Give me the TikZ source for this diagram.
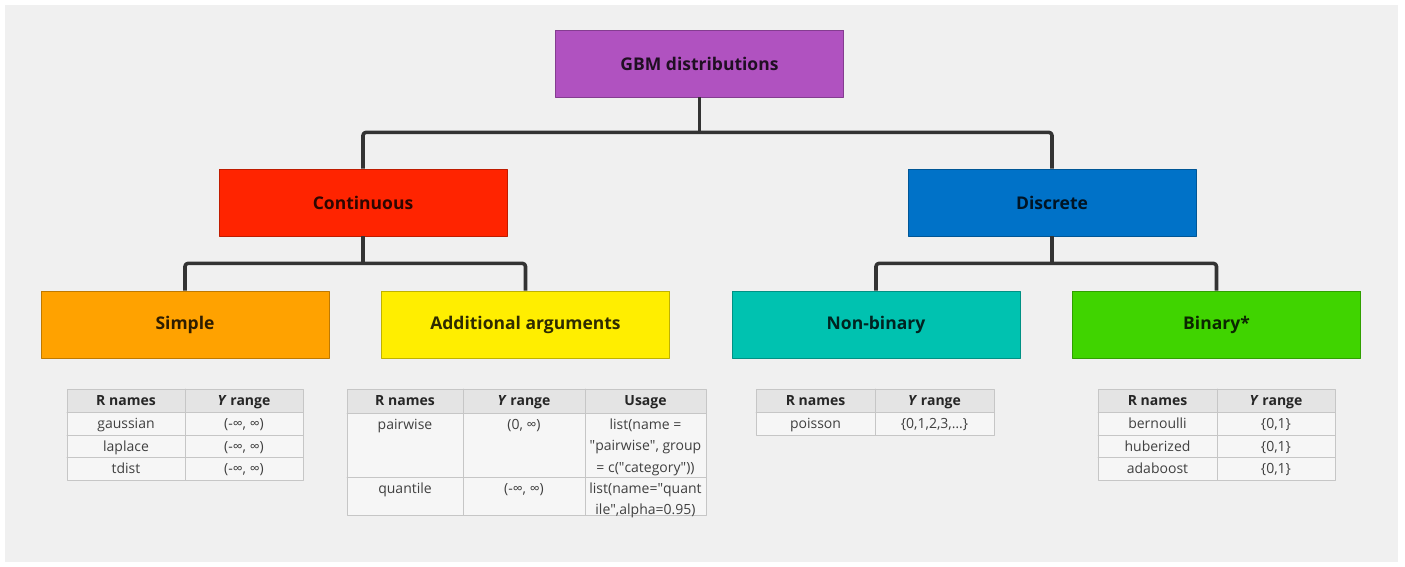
\documentclass[tikz,border=0pt]{standalone}
\usepackage{fontspec}
\setmainfont{Open Sans}
\usetikzlibrary{positioning,calc}

\definecolor{panel}{HTML}{F0F0F0}
\definecolor{gbmcol}{HTML}{B052C0}
\definecolor{contcol}{HTML}{FF2400}
\definecolor{disccol}{HTML}{0072C8}
\definecolor{simpcol}{HTML}{FFA200}
\definecolor{addcol}{HTML}{FFEE00}
\definecolor{nbcol}{HTML}{00C2B0}
\definecolor{bincol}{HTML}{40D400}
\definecolor{conncol}{HTML}{333333}
\definecolor{hdrfill}{HTML}{E4E4E4}
\definecolor{cellfill}{HTML}{F6F6F6}
\definecolor{gridcol}{HTML}{C6C6C6}

\newcommand{\tabfont}{\fontsize{14}{21.5}\selectfont}
\newcommand{\q}{\textquotedbl{}}

\begin{document}
\begin{tikzpicture}[
				x=1pt,y=-1pt,
				line cap=round,line join=round,
				box/.style={draw=#1!75!black, fill=#1, line width=0.8pt,
					minimum width=288, minimum height=67, inner sep=0pt,
					text=#1!18!black, font=\fontsize{17.5}{20}\selectfont\bfseries},
				conn/.style={draw=conncol, line width=3.6pt, rounded corners=3pt, line cap=butt},
				grid/.style={draw=gridcol, line width=1pt},
				cell/.style={anchor=north, inner sep=0pt, align=center, font=\tabfont, text=black!75},
				hcell/.style={cell, font=\tabfont\bfseries, text=black!85}
				]
				% ---- canvas
				\useasboundingbox (0,0) rectangle (1405,567);
				\fill[white] (0,0) rectangle (1405,567);
				\fill[panel] (5,5) rectangle (1398,562);
				
				% ---- boxes
				\node[box=gbmcol]  (gbm)    at (699.5,63.5)  {GBM distributions};
				\node[box=contcol] (cont)   at (363,202.5)   {Continuous};
				\node[box=disccol] (disc)   at (1052,202.5)  {Discrete};
				\node[box=simpcol] (simple) at (185,324.5)   {Simple};
				\node[box=addcol]  (addarg) at (525.5,324.5) {Additional arguments};
				\node[box=nbcol]   (nonbin) at (876,324.5)   {Non-binary};
				\node[box=bincol]  (binary) at (1216.5,324.5) {Binary*};
				
				% ---- connectors
				\coordinate (busTop)  at ($(gbm.south)+(0,35)$);
				\coordinate (busCont) at ($(cont.south)+(0,27)$);
				\coordinate (busDisc) at ($(disc.south)+(0,27)$);
				\draw[conn] (gbm.south) -- (busTop);
				\draw[conn] (cont.north) |- (busTop) -| (disc.north);
				\draw[conn] (cont.south) -- (busCont);
				\draw[conn] (simple.north) |- (busCont) -| (addarg.north);
				\draw[conn] (disc.south) -- (busDisc);
				\draw[conn] (nonbin.north) |- (busDisc) -| (binary.north);
				
				% ---- table: simple
				\fill[hdrfill] (67,389) rectangle (303,412);
				\fill[cellfill] (67,412) rectangle (303,480);
				\foreach \yy in {412,435,457} \draw[grid] (67,\yy) -- (303,\yy);
				\draw[grid] (185,389) -- (185,480);
				\draw[grid] (67,389) rectangle (303,480);
				\node[hcell] (s-h1) at (126,390) {\strut R names};
				\node[hcell] (s-h2) at (244,390) {\strut\textit{Y} range};
				\foreach \nm/\yy [count=\i] in {gaussian/412,laplace/435,tdist/457}{
					\node[cell] (s-n\i) at (126,\yy+1) {\strut\nm};
					\node[cell] (s-r\i) at (244,\yy+1) {\strut(-∞, ∞)};
				}
				
				% ---- table: additional arguments
				\fill[hdrfill] (347,389) rectangle (706,413);
				\fill[cellfill] (347,413) rectangle (706,515);
				\draw[grid] (347,413) -- (706,413);
				\draw[grid] (347,477) -- (706,477);
				\foreach \xx in {463,585} \draw[grid] (\xx,389) -- (\xx,515);
				\draw[grid] (347,389) rectangle (706,515);
				\node[hcell] (a-h1) at (405,390) {\strut R names};
				\node[hcell] (a-h2) at (524,390) {\strut\textit{Y} range};
				\node[hcell] (a-h3) at (645.5,390) {\strut Usage};
				\node[cell] (a-n1) at (405,414) {\strut pairwise};
				\node[cell] (a-r1) at (524,414) {\strut(0, ∞)};
				\node[cell] (a-u1) at (645.5,414) {\strut list(name =\\\q pairwise\q, group\\= c(\q category\q))};
				\node[cell] (a-n2) at (405,478) {\strut quantile};
				\node[cell] (a-r2) at (524,478) {\strut(-∞, ∞)};
				\node[cell] (a-u2) at (645.5,478) {\strut list(name=\q quant\\ile\q,alpha=0.95)};
				
				% ---- table: non-binary
				\fill[hdrfill] (756,389) rectangle (994,412);
				\fill[cellfill] (756,412) rectangle (994,435);
				\draw[grid] (756,412) -- (994,412);
				\draw[grid] (875,389) -- (875,435);
				\draw[grid] (756,389) rectangle (994,435);
				\node[hcell] (n-h1) at (815.5,390) {\strut R names};
				\node[hcell] (n-h2) at (934.5,390) {\strut\textit{Y} range};
				\node[cell] (n-n1) at (815.5,413) {\strut poisson};
				\node[cell] (n-r1) at (934.5,413) {\strut\{0,1,2,3,…\}};
				
				% ---- table: binary
				\fill[hdrfill] (1098,389) rectangle (1335,412);
				\fill[cellfill] (1098,412) rectangle (1335,480);
				\foreach \yy in {412,435,457} \draw[grid] (1098,\yy) -- (1335,\yy);
				\draw[grid] (1217,389) -- (1217,480);
				\draw[grid] (1098,389) rectangle (1335,480);
				\node[hcell] (b-h1) at (1157.5,390) {\strut R names};
				\node[hcell] (b-h2) at (1276,390) {\strut\textit{Y} range};
				\foreach \nm/\yy [count=\i] in {bernoulli/412,huberized/435,adaboost/457}{
					\node[cell] (b-n\i) at (1157.5,\yy+1) {\strut\nm};
					\node[cell] (b-r\i) at (1276,\yy+1) {\strut\{0,1\}};
				}
			\end{tikzpicture}
\end{document}
